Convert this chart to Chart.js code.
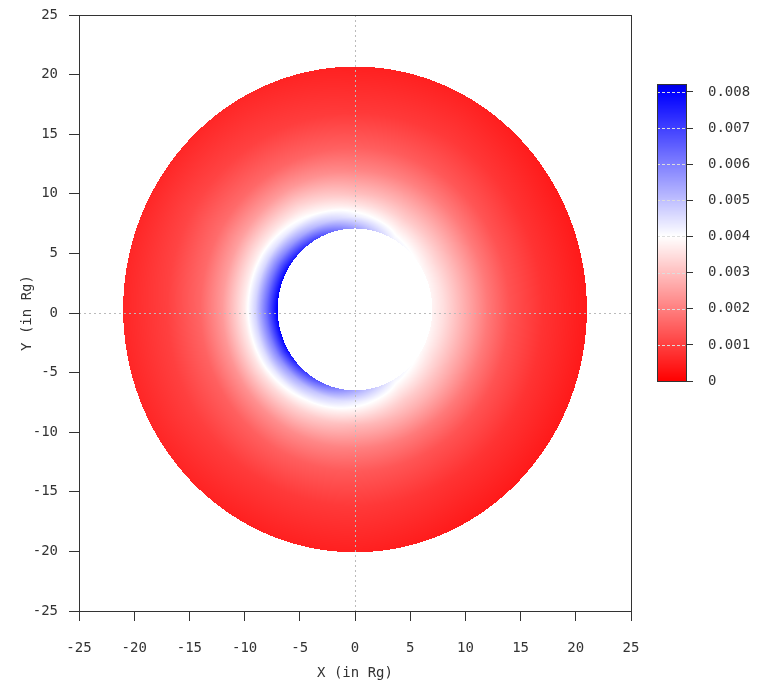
<!DOCTYPE html>
<html>
<head>
<meta charset="utf-8">
<script src="https://cdn.jsdelivr.net/npm/chart.js@4.4.1/dist/chart.umd.min.js"></script>
<style>
  html, body { margin: 0; padding: 0; background: #fff; }
  #wrap { position: relative; width: 760px; height: 683px; }
  #map { position: absolute; left: 0; top: 0; }
  #bar { position: absolute; left: 640px; top: 70px; }
</style>
</head>
<body>
<div id="wrap">
  <canvas id="map" width="760" height="683"></canvas>
  <canvas id="bar" width="120" height="330"></canvas>
</div>
<script>
// polar sampling of the map: radii in Rg, angles in degrees (counter-clockwise from +X)
const radii = [7, 8, 9, 10, 12, 14, 17, 21];
const angles = [0, 30, 60, 90, 120, 150, 180, 210, 240, 270, 300, 330];
// one row per angle, one column per radius
const emission = [
  [0.0038, 0.0035, 0.0031, 0.0027, 0.0019, 0.0013, 0.0008, 0.0004],
  [0.0039, 0.0035, 0.0031, 0.0027, 0.0019, 0.0013, 0.0008, 0.0004],
  [0.0042, 0.0037, 0.0032, 0.0028, 0.0020, 0.0014, 0.0009, 0.0005],
  [0.0055, 0.0043, 0.0036, 0.0030, 0.0021, 0.0015, 0.0009, 0.0005],
  [0.0070, 0.0052, 0.0041, 0.0035, 0.0024, 0.0016, 0.0010, 0.0006],
  [0.0079, 0.0061, 0.0046, 0.0037, 0.0025, 0.0017, 0.0011, 0.0006],
  [0.0081, 0.0063, 0.0047, 0.0037, 0.0024, 0.0016, 0.0010, 0.0006],
  [0.0079, 0.0059, 0.0045, 0.0036, 0.0023, 0.0015, 0.0010, 0.0006],
  [0.0068, 0.0050, 0.0040, 0.0033, 0.0022, 0.0015, 0.0009, 0.0005],
  [0.0054, 0.0043, 0.0036, 0.0029, 0.0020, 0.0014, 0.0009, 0.0005],
  [0.0042, 0.0037, 0.0032, 0.0028, 0.0019, 0.0013, 0.0008, 0.0004],
  [0.0039, 0.0035, 0.0031, 0.0027, 0.0019, 0.0013, 0.0008, 0.0004]
];
const axisTicks = [-25, -20, -15, -10, -5, 0, 5, 10, 15, 20, 25];
const barTicks = [0, 0.001, 0.002, 0.003, 0.004, 0.005, 0.006, 0.007, 0.008];

const centreY = 0.3;   // disk centre offset
const squash = 0.97;   // disk looks slightly flattened in Y

Chart.defaults.font.family = "'DejaVu Sans Mono', monospace";
Chart.defaults.font.size = 14;
Chart.defaults.color = '#333';

function lookup(r, th) {
  let i = 0;
  while (i < radii.length - 2 && r > radii[i + 1]) i++;
  let tr = (r - radii[i]) / (radii[i + 1] - radii[i]);
  tr = Math.max(0, Math.min(1, tr));
  const step = 360 / angles.length;
  const j = Math.floor(th / step) % angles.length;
  const j2 = (j + 1) % angles.length;
  const ta = (th - angles[j]) / step;
  const a = emission[j][i] * (1 - tr) + emission[j][i + 1] * tr;
  const b = emission[j2][i] * (1 - tr) + emission[j2][i + 1] * tr;
  return a * (1 - ta) + b * ta;
}

// red (0) -> white (0.004) -> blue (0.008), a bit darker above that
function colour(v) {
  const t = Math.max(0, v / 0.008);
  if (t < 0.5) {
    const k = Math.round(255 * t * 2);
    return [255, k, k];
  }
  if (t <= 1) {
    const k = Math.round(255 * (1 - t) * 2);
    return [k, k, 255];
  }
  return [0, 0, Math.round(255 - Math.min(1, (t - 1) * 20) * 60)];
}

// keep the plot box where the layout padding puts it
function noLabelPadding(s) {
  s.paddingTop = 0;
  s.paddingBottom = 0;
  s.paddingLeft = 0;
  s.paddingRight = 0;
}

const diskPlugin = {
  id: 'disk',
  beforeDraw(chart) {
    const { ctx, chartArea: a, scales: { x, y } } = chart;
    const w = Math.round(a.right - a.left), h = Math.round(a.bottom - a.top);
    const img = ctx.createImageData(w, h);
    const inner = radii[0], outer = radii[radii.length - 1];
    for (let j = 0; j < h; j++) {
      const dy = (y.getValueForPixel(a.top + j + 0.5) - centreY) / squash;
      for (let i = 0; i < w; i++) {
        const dx = x.getValueForPixel(a.left + i + 0.5);
        const r = Math.hypot(dx, dy);
        if (r < inner || r > outer) continue;
        let th = Math.atan2(dy, dx) * 180 / Math.PI;
        if (th < 0) th += 360;
        const c = colour(lookup(r, th));
        const k = (j * w + i) * 4;
        img.data[k] = c[0];
        img.data[k + 1] = c[1];
        img.data[k + 2] = c[2];
        img.data[k + 3] = 255;
      }
    }
    ctx.putImageData(img, Math.round(a.left), Math.round(a.top));
  },
  beforeDatasetsDraw(chart) {
    const { ctx, chartArea: a, scales: { x, y } } = chart;
    const px = Math.round(x.getPixelForValue(0)) + 0.5;
    const py = Math.round(y.getPixelForValue(0)) + 0.5;
    ctx.save();
    ctx.strokeStyle = '#bbb';
    ctx.lineWidth = 1;
    ctx.setLineDash([2, 3]);
    ctx.beginPath();
    ctx.moveTo(px, a.top); ctx.lineTo(px, a.bottom);
    ctx.moveTo(a.left, py); ctx.lineTo(a.right, py);
    ctx.stroke();
    ctx.restore();
  },
  afterDraw(chart) {
    const { ctx, chartArea: a } = chart;
    ctx.save();
    ctx.strokeStyle = '#333';
    ctx.lineWidth = 1;
    ctx.strokeRect(a.left + 0.5, a.top + 0.5, a.right - a.left, a.bottom - a.top);
    ctx.restore();
  }
};

const axisGrid = { color: 'rgba(0,0,0,0)', tickColor: '#333', tickLength: 10, drawOnChartArea: false };

new Chart(document.getElementById('map'), {
  type: 'scatter',
  data: { datasets: [] },
  plugins: [diskPlugin],
  options: {
    responsive: false,
    animation: false,
    layout: { padding: { left: 0, top: 15, right: 129, bottom: 0 } },
    plugins: { legend: { display: false }, tooltip: { enabled: false } },
    scales: {
      x: {
        type: 'linear', min: -25, max: 25,
        grid: axisGrid,
        border: { display: false },
        ticks: { padding: 19, maxRotation: 0 },
        afterBuildTicks: s => { s.ticks = axisTicks.map(v => ({ value: v })); },
        afterFit: s => { s.height = 72; noLabelPadding(s); },
        title: { display: true, text: 'X (in Rg)', padding: { top: 0, bottom: 1 } }
      },
      y: {
        type: 'linear', min: -25, max: 25,
        grid: axisGrid,
        border: { display: false },
        ticks: { padding: 11 },
        afterBuildTicks: s => { s.ticks = axisTicks.map(v => ({ value: v })); },
        afterFit: s => { s.width = 79; noLabelPadding(s); },
        title: { display: true, text: 'Y (in Rg)', padding: { top: 19, bottom: 0 } }
      }
    }
  }
});

const barPlugin = {
  id: 'colourbar',
  beforeDraw(chart) {
    const { ctx, chartArea: a, scales: { y } } = chart;
    for (let py = Math.round(a.top); py < Math.round(a.bottom); py++) {
      const c = colour(y.getValueForPixel(py + 0.5));
      ctx.fillStyle = 'rgb(' + c.join(',') + ')';
      ctx.fillRect(a.left, py, a.right - a.left, 1);
    }
  },
  beforeDatasetsDraw(chart) {
    const { ctx, chartArea: a, scales: { y } } = chart;
    ctx.save();
    ctx.strokeStyle = '#ddd';
    ctx.lineWidth = 1;
    ctx.setLineDash([3, 2]);
    ctx.beginPath();
    barTicks.forEach(v => {
      const py = Math.round(y.getPixelForValue(v)) + 0.5;
      ctx.moveTo(a.left, py); ctx.lineTo(a.right, py);
    });
    ctx.stroke();
    ctx.restore();
  },
  afterDraw(chart) {
    const { ctx, chartArea: a } = chart;
    ctx.save();
    ctx.strokeStyle = '#333';
    ctx.lineWidth = 1;
    ctx.strokeRect(a.left + 0.5, a.top + 0.5, a.right - a.left, a.bottom - a.top);
    ctx.restore();
  }
};

new Chart(document.getElementById('bar'), {
  type: 'scatter',
  data: { datasets: [] },
  plugins: [barPlugin],
  options: {
    responsive: false,
    animation: false,
    layout: { padding: { left: 17, top: 14, right: 0, bottom: 19 } },
    plugins: { legend: { display: false }, tooltip: { enabled: false } },
    scales: {
      x: { type: 'linear', display: false, min: 0, max: 1 },
      y: {
        type: 'linear', position: 'right', min: 0, max: 0.00822,
        grid: { color: 'rgba(0,0,0,0)', tickColor: '#333', tickLength: 7, drawOnChartArea: false },
        border: { display: false },
        ticks: {
          padding: 15,
          callback: v => (v === 0 ? '0' : v.toFixed(3))
        },
        afterBuildTicks: s => { s.ticks = barTicks.map(v => ({ value: v })); },
        afterFit: s => { s.width = 74; noLabelPadding(s); }
      }
    }
  }
});
</script>
</body>
</html>
